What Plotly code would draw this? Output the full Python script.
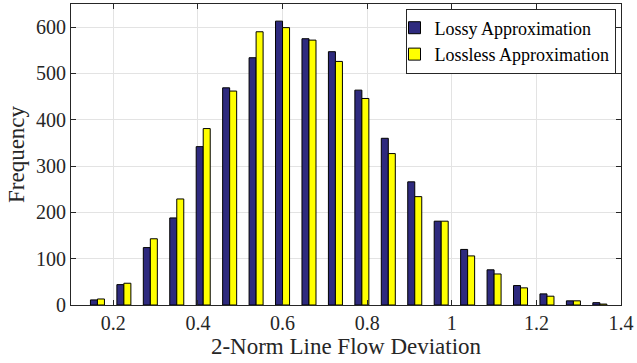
import plotly.graph_objects as go

bin_centers = [0.1625, 0.225, 0.2875, 0.35, 0.4125, 0.475, 0.5375, 0.6, 0.6625, 0.725,
               0.7875, 0.85, 0.9125, 0.975, 1.0375, 1.1, 1.1625, 1.225, 1.2875, 1.35]
lossy = [11, 44, 124, 188, 342, 469, 534, 613, 575, 547,
         464, 360, 266, 181, 120, 76, 42, 24, 9, 5]
lossless = [13, 47, 143, 229, 381, 462, 590, 599, 572, 526,
            446, 327, 234, 181, 106, 67, 37, 19, 9, 2]

x_ticks = [0.2, 0.4, 0.6, 0.8, 1.0, 1.2, 1.4]
x_tick_labels = ["0.2", "0.4", "0.6", "0.8", "1", "1.2", "1.4"]
y_ticks = [0, 100, 200, 300, 400, 500, 600]

FONT = "Liberation Serif"

fig = go.Figure()
fig.add_trace(go.Bar(x=bin_centers, y=lossy, name="Lossy Approximation",
                     marker=dict(color="#2E2A7E", line=dict(color="black", width=1))))
fig.add_trace(go.Bar(x=bin_centers, y=lossless, name="Lossless Approximation",
                     marker=dict(color="#FFFF00", line=dict(color="black", width=1))))

fig.update_layout(
    width=637, height=363,
    margin=dict(l=71, r=14, t=3, b=58),
    plot_bgcolor="white", paper_bgcolor="white",
    barmode="group", bargap=0.47, bargroupgap=0,
    font=dict(family=FONT, size=20, color="#262626"),
    legend=dict(x=0.99, y=0.985, xanchor="right", yanchor="top",
                bordercolor="#262626", borderwidth=1, bgcolor="white",
                font=dict(family=FONT, size=18, color="black"),
                itemwidth=30, tracegroupgap=0, indentation=-12),
    xaxis=dict(range=[0.1, 1.4], tickvals=x_ticks, ticktext=x_tick_labels,
               showgrid=True, gridcolor="#E3E3E3", gridwidth=1,
               ticks="inside", ticklen=5, tickcolor="#262626",
               showline=True, linecolor="#262626", linewidth=1, mirror="ticks",
               zeroline=False, ticklabeloverflow="allow",
               tickfont=dict(size=20),
               title=dict(text="2-Norm Line Flow Deviation", font=dict(size=23), standoff=2)),
    yaxis=dict(range=[0, 650], tickvals=y_ticks,
               showgrid=True, gridcolor="#E3E3E3", gridwidth=1,
               ticks="inside", ticklen=5, tickcolor="#262626",
               showline=True, linecolor="#262626", linewidth=1, mirror="ticks",
               zeroline=False, tickfont=dict(size=20),
               title=dict(text="Frequency", font=dict(size=23), standoff=4)),
)

fig.write_html("out.html", config={"displayModeBar": False},
               post_script="document.body.style.margin='0';document.body.style.overflow='hidden';")
